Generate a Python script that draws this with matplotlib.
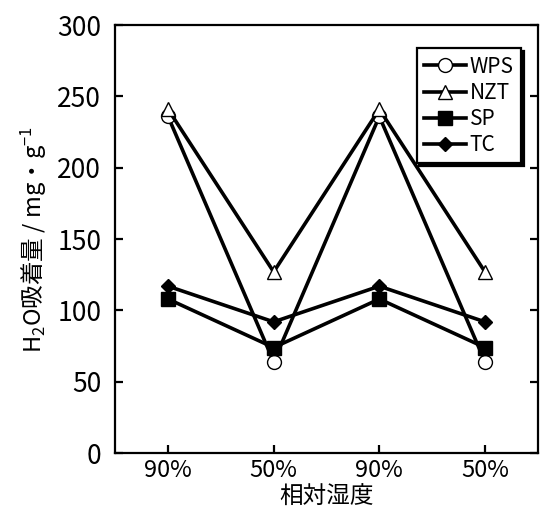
import matplotlib.pyplot as plt

plt.rcParams['font.family'] = ['Noto Sans CJK JP', 'DejaVu Sans']
plt.rcParams['mathtext.fontset'] = 'custom'
plt.rcParams['mathtext.rm'] = 'Noto Sans CJK JP'
plt.rcParams['mathtext.it'] = 'Noto Sans CJK JP'

categories = ["90%", "50%", "90%", "50%"]
wps = [236, 64, 236, 64]
nzt = [241, 127, 241, 127]
sp = [108, 74, 108, 74]
tc = [117, 92, 117, 92]

fig = plt.figure(figsize=(5.46, 5.12), dpi=100)
ax = fig.add_axes([0.211, 0.115, 0.774, 0.836])

x = range(len(categories))
lw = 2.6
ax.plot(x, wps, color='k', lw=lw, marker='o', ms=10, mfc='white', mec='k', mew=1, label='WPS')
ax.plot(x, nzt, color='k', lw=lw, marker='^', ms=10, mfc='white', mec='k', mew=1, label='NZT')
ax.plot(x, sp, color='k', lw=lw, marker='s', ms=10.5, mfc='k', mec='k', label='SP')
ax.plot(x, tc, color='k', lw=lw, marker='D', ms=7.5, mfc='k', mec='k', label='TC')

ax.set_xlim(-0.5, 3.5)
ax.set_ylim(0, 300)
ax.set_xticks(list(x))
ax.set_xticklabels(categories, fontsize=17)
ax.set_yticks(range(0, 301, 50))
ax.tick_params(axis='y', labelsize=19, direction='in', length=6, width=1.6, right=True, pad=10)
ax.tick_params(axis='x', direction='in', length=6, width=1.6, top=False, pad=4)
for s in ax.spines.values():
    s.set_linewidth(1.6)

ax.set_xlabel("相対湿度", fontsize=17, labelpad=3)
ax.set_ylabel("H$_2$O吸着量 / mg・g$^{-1}$", fontsize=17, labelpad=6)

leg = ax.legend(loc='upper right', bbox_to_anchor=(0.985, 0.97), fontsize=15, frameon=True,
                fancybox=False, edgecolor='k', handlelength=2.0, handletextpad=0.2,
                borderpad=0.35, labelspacing=0.2,
                shadow={'color': 'k', 'alpha': 1})
leg.get_frame().set_linewidth(1.6)

fig.savefig("out.png", dpi=100)
